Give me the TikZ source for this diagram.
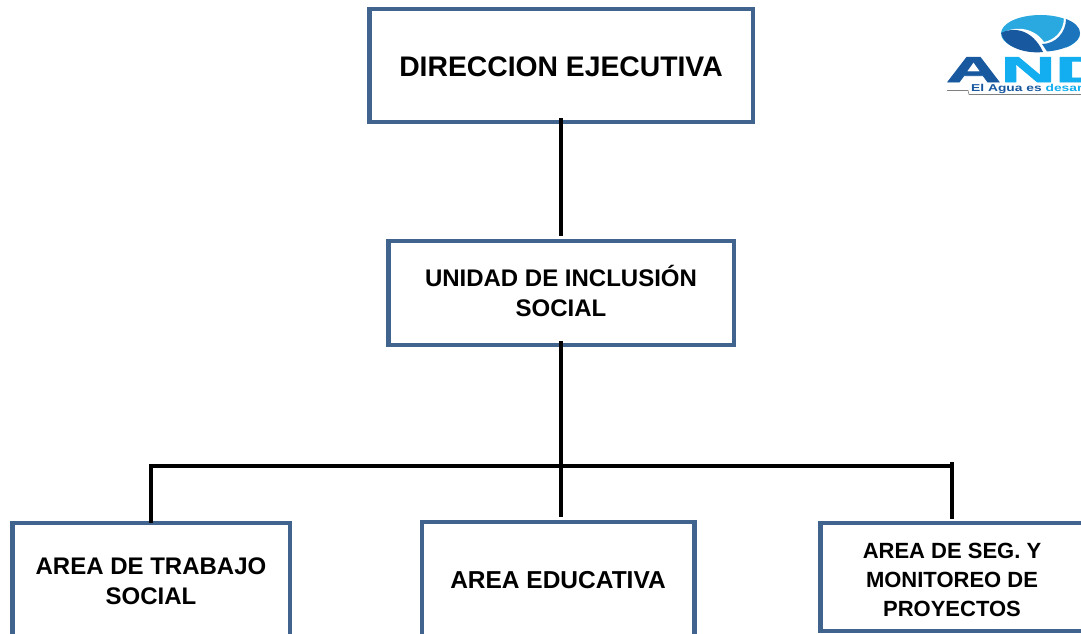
\documentclass[tikz,border=0pt]{standalone}
\usepackage{fontspec}
\setmainfont{Liberation Sans}
\newfontfamily\logofont[UprightFont={* Bold},FakeBold=2]{Liberation Sans}
\definecolor{boxblue}{HTML}{41648F}
\definecolor{logodark}{HTML}{17589F}
\definecolor{logomid}{HTML}{1B74BC}
\definecolor{logolight}{HTML}{2AA9E0}
\definecolor{logosky}{HTML}{12AEEF}
\tikzset{
  orgbox/.style={draw=boxblue,line width=4.5pt,fill=white,rectangle,outer sep=0pt,inner sep=0pt,align=center},
  link/.style={draw=black,line width=4pt},
}
\begin{document}
\begin{tikzpicture}[x=1pt,y=-1pt]
\useasboundingbox (0,0) rectangle (1081,634);
\clip (0,0) rectangle (1081,634);
% logo
\fill[logolight] (1040.5,33.5) ellipse [x radius=39.5pt,y radius=18.5pt];
\fill[white] (1001,34) .. controls (1012,26) and (1033,26) .. (1044,42) .. controls (1054,40) and (1064,32) .. (1064,17) -- (1068,19) -- (1081,33) -- (1060,53) -- (1020,53) -- cycle;
\fill[logodark] (1001,33) .. controls (1012,27) and (1032,28) .. (1043,52) .. controls (1025,54) and (1004,47) .. (1001,33) -- cycle;
\fill[logomid] (1042,44) .. controls (1056,44) and (1066,32) .. (1066,19) .. controls (1074,22) and (1080,27) .. (1080,33) .. controls (1080,42) and (1066,50) .. (1047,51.5) -- cycle;
\node[anchor=base west,inner sep=0pt,font=\logofont\fontsize{36}{36}\selectfont] (logoand) at (946,82) {\scalebox{2.1}[1]{\textcolor{logodark}{A}\textcolor{logosky}{ND}}};
\node[anchor=base west,inner sep=0pt,font=\bfseries\fontsize{10}{10}\selectfont] (logotag) at (971,92) {\scalebox{1.38}[1]{\textcolor{logodark}{El Agua es} \textcolor{logosky}{desar}}};
\draw[gray,line width=.6pt] (947,90.5) -- (968,90.5) -- (969,94.5) -- (1081,94.5);
% boxes
\node[orgbox,minimum width=383.5pt,minimum height=113pt] (top) at (561,65.5) {\begin{minipage}{370pt}\centering\bfseries\fontsize{28.3}{34}\selectfont\vspace*{2pt}DIRECCION EJECUTIVA\end{minipage}};
\node[orgbox,minimum width=345.5pt,minimum height=104pt] (mid) at (561,293) {\begin{minipage}{340pt}\centering\bfseries\fontsize{24}{30}\selectfont\vspace*{-4pt}UNIDAD DE INCLUSIÓN\\SOCIAL\end{minipage}};
\node[orgbox,minimum width=277.5pt,minimum height=116pt,font=\bfseries\fontsize{24}{30}\selectfont] (left) at (151,581) {AREA DE TRABAJO\\SOCIAL};
\node[orgbox,minimum width=272.5pt,minimum height=116pt,font=\bfseries\fontsize{24.5}{30}\selectfont] (center) at (558,580) {AREA EDUCATIVA};
\node[orgbox,minimum width=263pt,minimum height=108pt] (right) at (952,577) {\begin{minipage}{250pt}\centering\bfseries\fontsize{22}{29}\selectfont\vspace*{5pt}AREA DE SEG. Y\\MONITOREO DE\\PROYECTOS\end{minipage}};
% connectors
\coordinate (barl) at (149,466);
\coordinate (barr) at (954,466);
\coordinate (barc) at (561,466);
\coordinate (dropl) at (151,466);
\coordinate (dropr) at (952,462);
\draw[link,shorten <=-4pt,shorten >=5pt] (top.south -| barc) -- (mid.north -| barc);
\draw[link,shorten <=-4pt] (mid.south -| barc) -- (barc);
\draw[link] (barl) -- (barr);
\draw[link] (dropl) -- (left.north -| dropl);
\draw[link,shorten >=5pt] (barc) -- (center.north -| barc);
\draw[link,shorten >=4pt] (dropr) -- (right.north -| dropr);
\end{tikzpicture}
\end{document}
